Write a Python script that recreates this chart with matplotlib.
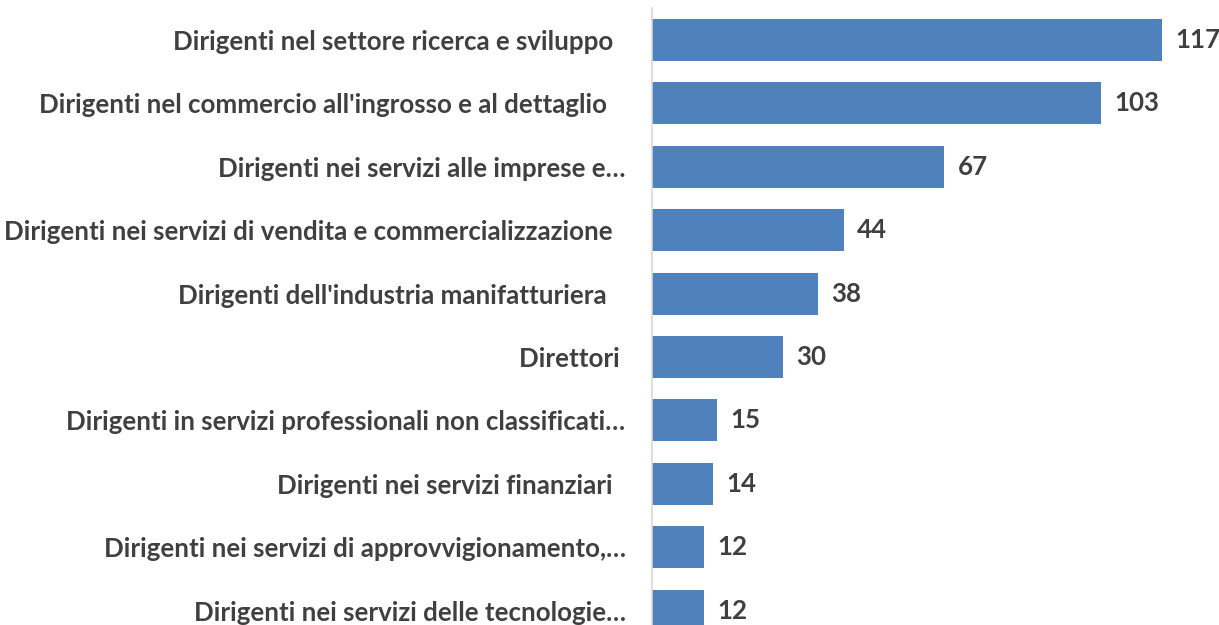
import matplotlib.pyplot as plt

categories = [
    "Dirigenti nel settore ricerca e sviluppo  ",
    "Dirigenti nel commercio all'ingrosso e al dettaglio   ",
    "Dirigenti nei servizi alle imprese e…",
    "Dirigenti nei servizi di vendita e commercializzazione  ",
    "Dirigenti dell'industria manifatturiera   ",
    "Direttori ",
    "Dirigenti in servizi professionali non classificati…",
    "Dirigenti nei servizi finanziari  ",
    "Dirigenti nei servizi di approvvigionamento,…",
    "Dirigenti nei servizi delle tecnologie…",
]
values = [117, 103, 67, 44, 38, 30, 15, 14, 12, 12]

plt.rcParams['font.family'] = ['Lato', 'DejaVu Sans']
text_color = '#404040'

fig = plt.figure(figsize=(12.19, 6.25), dpi=100)
ax = fig.add_axes([652 / 1219, 0, 1 - 652 / 1219, 1 - 8 / 625])

pos = list(range(len(categories)))
ax.barh(pos, values, height=0.66, color='#4F81BD')

ax.set_xlim(0, 130)
ax.set_ylim(9.227, -0.505)

ax.set_yticks(pos)
ax.set_yticklabels(categories, fontsize=18.6, fontweight='bold', color=text_color)
ax.tick_params(axis='y', length=0, pad=19)
ax.set_xticks([])

for s in ['top', 'right', 'bottom']:
    ax.spines[s].set_visible(False)
ax.spines['left'].set_color('#D9D9D9')
ax.spines['left'].set_linewidth(1.2)

for p, v in zip(pos, values):
    ax.annotate(str(v), (v, p), xytext=(9.5, 0), textcoords='offset points',
                va='center', ha='left', fontsize=18.6, fontweight='bold',
                color=text_color)

fig.savefig('out.png', dpi=100)
